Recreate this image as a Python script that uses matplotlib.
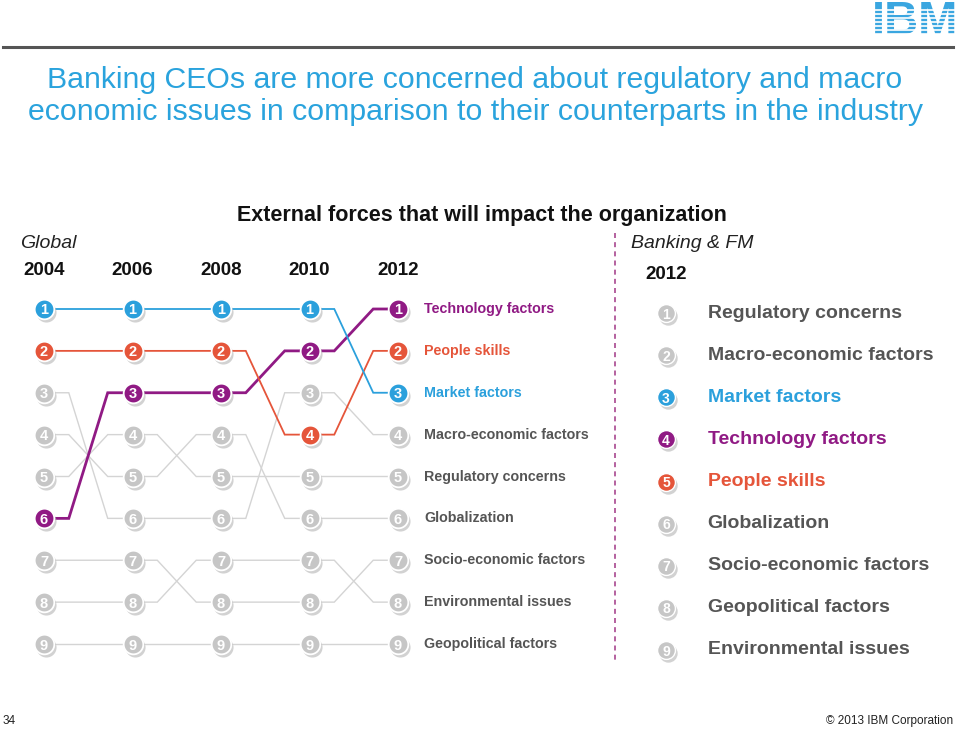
import matplotlib
matplotlib.use('Agg')
import matplotlib.pyplot as plt
import matplotlib.transforms as mtransforms
from matplotlib.lines import Line2D

plt.rcParams['font.family'] = ['Liberation Sans', 'DejaVu Sans']

# --- data ---
years = [2004, 2006, 2008, 2010, 2012]
factors = ['Technology factors', 'People skills', 'Market factors',
           'Macro-economic factors', 'Regulatory concerns', 'Globalization',
           'Socio-economic factors', 'Environmental issues', 'Geopolitical factors']
technology_ranks = [6, 3, 3, 2, 1]
people_ranks = [2, 2, 2, 4, 2]
market_ranks = [1, 1, 1, 1, 3]
macro_ranks = [3, 6, 6, 3, 4]
regulatory_ranks = [5, 4, 5, 5, 5]
globalization_ranks = [4, 5, 4, 6, 6]
socio_ranks = [7, 7, 8, 8, 7]
environmental_ranks = [8, 8, 7, 7, 8]
geopolitical_ranks = [9, 9, 9, 9, 9]
banking_order = ['Regulatory concerns', 'Macro-economic factors', 'Market factors',
                 'Technology factors', 'People skills', 'Globalization',
                 'Socio-economic factors', 'Geopolitical factors', 'Environmental issues']

ranks = dict(zip(factors, [technology_ranks, people_ranks, market_ranks, macro_ranks,
                           regulatory_ranks, globalization_ranks, socio_ranks,
                           environmental_ranks, geopolitical_ranks]))

highlight = {'Technology factors': '#901a84', 'People skills': '#e5553a',
             'Market factors': '#2ba0dc'}
GRAY_DOT = '#c6c6c6'
GRAY_LINE = '#d4d4d4'
TEXT_GRAY = '#555555'
TITLE_BLUE = '#2aa3dd'

W, H = 960, 730
fig = plt.figure(figsize=(W / 100, H / 100), dpi=100)


def fx(px):
    return px / W


def fy(py):
    return 1 - py / H


# --- header ---
fig.add_artist(Line2D([fx(3), fx(953)], [fy(47), fy(47)], color='#555555', lw=2.2))
fig.text(fx(915), fy(22), 'IBM', color='#3aa6e0', fontsize=34, fontweight='bold',
         ha='center', va='center', zorder=5)
for k in range(1, 8):
    yy = fy(6 + k * 4)
    fig.add_artist(Line2D([fx(868), fx(960)], [yy, yy], color='white', lw=1.2, zorder=10))

fig.text(fx(475), fy(80), 'Banking CEOs are more concerned about regulatory and macro',
         color=TITLE_BLUE, fontsize=21.8, ha='center', va='center')
fig.text(fx(475), fy(112), 'economic issues in comparison to their counterparts in the industry',
         color=TITLE_BLUE, fontsize=21.8, ha='center', va='center')

fig.text(fx(482), fy(216), 'External forces that will impact the organization',
         fontsize=15.5, fontweight='bold', ha='center', va='center', color='#111111')
fig.text(fx(20), fy(244), 'Global', fontsize=14, style='italic', ha='left', va='center',
         color='#222222')
fig.text(fx(631), fy(244), 'Banking & FM', fontsize=14, style='italic', ha='left',
         va='center', color='#222222')

fig.add_artist(Line2D([fx(615), fx(615)], [fy(233), fy(660)], color='#a8478f', lw=1.2,
                      linestyle=(0, (3, 2.5))))

# footer
fig.text(fx(3), fy(721), '34', fontsize=8.5, ha='left', va='center', color='#222222')
fig.text(fx(953), fy(721), '\u00a9 2013 IBM Corporation', fontsize=8.5, ha='right',
         va='center', color='#222222')

# --- bump chart (global) ---
ax = fig.add_axes([fx(44), fy(644), fx(398) - fx(44), fy(309) - fy(644)])
ax.set_xlim(years[0], years[-1])
ax.set_ylim(9, 1)
ax.axis('off')

shadow = mtransforms.offset_copy(ax.transData, fig=fig, x=2, y=-3, units='dots')
frac = 0.28

for name in factors:
    r = ranks[name]
    xs, ys = [], []
    for i in range(len(years) - 1):
        x0, x1 = years[i], years[i + 1]
        dx = x1 - x0
        xs += [x0, x0 + frac * dx, x1 - frac * dx, x1]
        ys += [r[i], r[i], r[i + 1], r[i + 1]]
    col = highlight.get(name, GRAY_LINE)
    lw = 2.0 if name == 'Technology factors' else (1.3 if name in highlight else 1.0)
    ax.plot(xs, ys, color=col, lw=lw, zorder=1 if name not in highlight else 2,
            clip_on=False, solid_joinstyle='miter')

    for yr, rk in zip(years, r):
        dot = highlight.get(name, GRAY_DOT)
        ax.scatter([yr], [rk], s=210, color='#b5b5b5', alpha=0.6, transform=shadow,
                   zorder=3, clip_on=False, linewidths=0)
        ax.scatter([yr], [rk], s=200, color=dot, zorder=4, clip_on=False,
                   edgecolors='white', linewidths=1.3)
        ax.text(yr, rk, str(rk), color='white', fontsize=10.5, fontweight='bold',
                ha='center', va='center_baseline', zorder=5)

    ax.annotate(name, xy=(years[-1], r[-1]), xytext=(19, 0), textcoords='offset points',
                ha='left', va='center', fontsize=10.3, fontweight='bold',
                color=highlight.get(name, TEXT_GRAY), annotation_clip=False)

for yr in years:
    ax.annotate(str(yr), xy=(yr, 1), xytext=(0, 27.5), textcoords='offset points',
                ha='center', va='center', fontsize=13.5, fontweight='bold',
                color='#111111', annotation_clip=False)

# --- banking & FM 2012 ---
ax2 = fig.add_axes([fx(646), fy(650), fx(686) - fx(646), fy(313) - fy(650)])
ax2.set_xlim(2011, 2013)
ax2.set_ylim(9, 1)
ax2.axis('off')
shadow2 = mtransforms.offset_copy(ax2.transData, fig=fig, x=2, y=-3, units='dots')

for i, name in enumerate(banking_order):
    rk = i + 1
    dot = highlight.get(name, GRAY_DOT)
    ax2.scatter([2012], [rk], s=175, color='#b5b5b5', alpha=0.6, transform=shadow2,
                zorder=3, clip_on=False, linewidths=0)
    ax2.scatter([2012], [rk], s=165, color=dot, zorder=4, clip_on=False,
                edgecolors='white', linewidths=1.0)
    ax2.text(2012, rk, str(rk), color='white', fontsize=10, fontweight='bold',
             ha='center', va='center_baseline', zorder=5)
    ax2.annotate(name, xy=(2012, rk), xytext=(30, 0), textcoords='offset points',
                 ha='left', va='center', fontsize=14, fontweight='bold',
                 color=highlight.get(name, TEXT_GRAY), annotation_clip=False)

ax2.annotate('2012', xy=(2012, 1), xytext=(0, 27.5), textcoords='offset points',
             ha='center', va='center', fontsize=13.5, fontweight='bold', color='#111111',
             annotation_clip=False)

fig.savefig('out.png', dpi=100)
